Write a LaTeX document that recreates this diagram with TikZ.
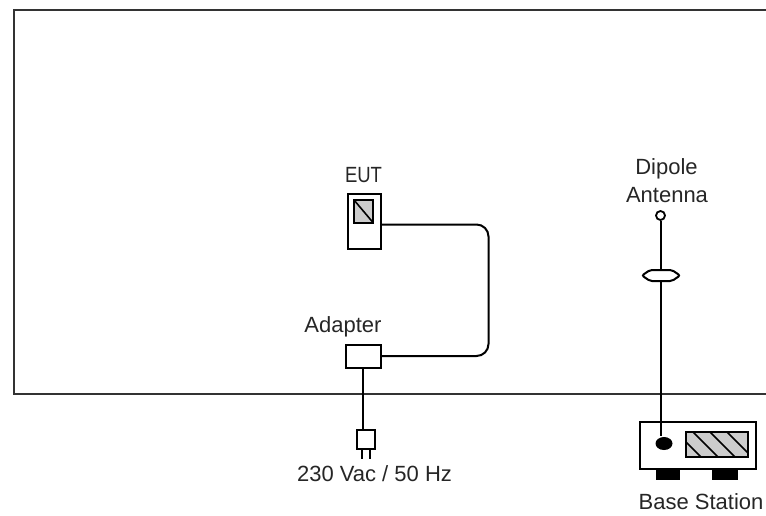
\documentclass[tikz,border=0pt]{standalone}
\usepackage{fontspec}
\usepackage{graphicx}
\usetikzlibrary{shapes.geometric}
\setmainfont{Liberation Sans}
\begin{document}
\begin{tikzpicture}[x=1pt,y=-1pt,
  line width=2pt,
  device/.style={draw=black,fill=white,minimum width=0pt,minimum height=0pt,inner sep=0pt,outer sep=0pt,line width=2pt,anchor=north west},
  lbl/.style={font=\fontsize{22}{24}\selectfont,text=black!85,inner sep=0pt},
  wire/.style={draw=black,line width=2pt},
  foot/.style={fill=black,draw=none,inner sep=0pt,outer sep=0pt,anchor=north west}]
\useasboundingbox (0,0) rectangle (766,515);
\draw[line width=2.4pt,black!80] (766,394) -- (14,394) -- (14,10) -- (766,10);
% EUT
\node[device,minimum width=32.5pt,minimum height=55pt] (eut) at (348,194) {};
\node[device,fill=black!20,minimum width=19pt,minimum height=22.5pt] (screen) at (354,200) {};
\draw[line width=1.6pt] (screen.north west) -- (screen.south east);
\node[lbl] (eutl) at (363.5,175) {\scalebox{0.84}[1]{EUT}};
% Adapter
\node[device,minimum width=34.5pt,minimum height=23pt] (adapter) at (346,344.5) {};
\node[lbl] (adl) at (343,327) {Adapter};
\draw[wire,rounded corners=12pt] (eut.east |- 0,224.5) -- (488.5,224.5) -- (488.5,356) -- (adapter.east);
% Plug
\node[device,minimum width=18pt,minimum height=19pt] (plug) at (356.5,430) {};
\draw[wire] (adapter.south) -- (adapter.south |- plug.north);
\coordinate (p1) at (362,459);
\coordinate (p2) at (370,459);
\draw[wire] (p1 |- plug.south) -- (p1);
\draw[wire] (p2 |- plug.south) -- (p2);
\node[lbl] (mains) at (374.5,474) {230 Vac / 50 Hz};
% Base station
\node[device,minimum width=115.5pt,minimum height=47pt] (base) at (640,422) {};
\node[foot,minimum width=24pt,minimum height=11pt] (f1) at (656,469) {};
\node[foot,minimum width=26pt,minimum height=11pt] (f2) at (712,469) {};
\node[device,fill=black!20,minimum width=61.5pt,minimum height=25pt] (panel) at (686,432) {};
\begin{scope}
\clip (686,432) rectangle (747.5,457);
\foreach \s in {-10,7,24,41}
  \draw[line width=1.5pt] (686+\s,432) -- (711+\s,457);
\end{scope}
\node[device,fill=none,minimum width=61.5pt,minimum height=25pt] at (686,432) {};
\node[fill=black,draw=none,ellipse,inner sep=0pt,minimum width=17pt,minimum height=13pt] (port) at (664,443.5) {};
% Antenna
\node[draw=black,fill=white,circle,inner sep=0pt,minimum size=9pt,line width=1.8pt] (ant) at (660.5,215.5) {};
\draw[wire] (ant.south) -- (ant.south |- port.north);
\draw[fill=white,line width=2pt,rounded corners=2pt] (642,275.5) -- (650,270) -- (672,270) -- (680,275.5) -- (672,281) -- (650,281) -- cycle;
\node[lbl] (dip) at (666.5,169) {Dipole};
\node[lbl] (antl) at (667,195.5) {Antenna};
\node[lbl] (basel) at (701,501.5) {Base Station};
\end{tikzpicture}
\end{document}
